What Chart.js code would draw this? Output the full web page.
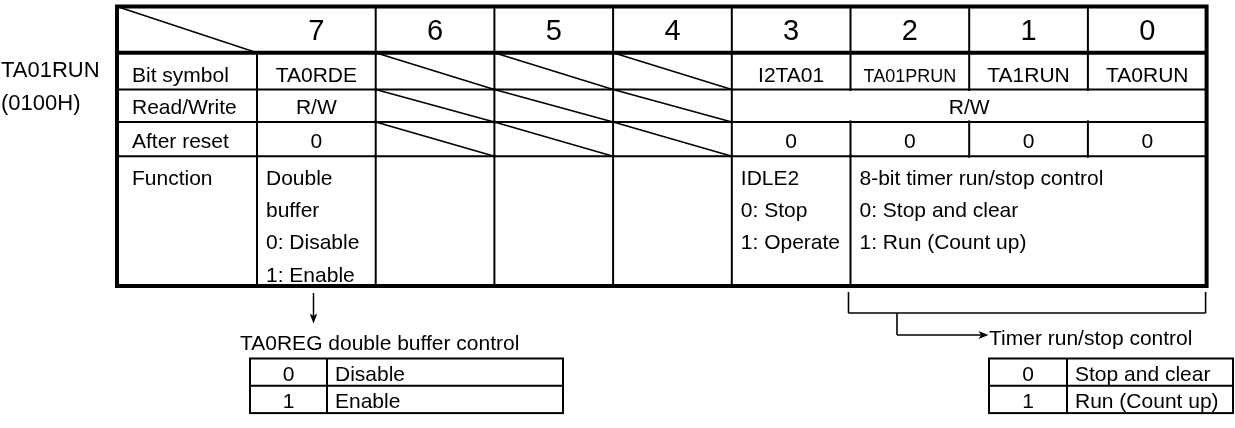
<!DOCTYPE html>
<html>
<head>
<meta charset="utf-8">
<script src="https://cdn.jsdelivr.net/npm/chart.js@4.4.1/dist/chart.umd.min.js"></script>
<style>
  html, body { margin: 0; padding: 0; background: #fff; }
  #wrap { width: 1235px; height: 428px; }
</style>
</head>
<body>
<div id="wrap"><canvas id="chart" width="1235" height="428"></canvas></div>
<script>
// register contents
const registerName = ['TA01RUN', '(0100H)'];
const bitNumbers = ['7', '6', '5', '4', '3', '2', '1', '0'];
const rowLabels = ['Bit symbol', 'Read/Write', 'After reset', 'Function'];
// null = reserved bit (hatched cell)
const bitSymbols = ['TA0RDE', null, null, null, 'I2TA01', 'TA01PRUN', 'TA1RUN', 'TA0RUN'];
const readWrite = [[7, 7, 'R/W'], [6, 6, null], [5, 5, null], [4, 4, null], [3, 0, 'R/W']];
const afterReset = ['0', null, null, null, '0', '0', '0', '0'];
const functions = [
  [7, 7, ['Double', 'buffer', '0: Disable', '1: Enable']],
  [6, 6, []], [5, 5, []], [4, 4, []],
  [3, 3, ['IDLE2', '0: Stop', '1: Operate']],
  [2, 0, ['8-bit timer run/stop control', '0: Stop and clear', '1: Run (Count up)']]
];
const bufferTitle = 'TA0REG double buffer control';
const bufferCodes = ['0', '1'];
const bufferNames = ['Disable', 'Enable'];
const timerTitle = 'Timer run/stop control';
const timerCodes = ['0', '1'];
const timerNames = ['Stop and clear', 'Run (Count up)'];

// layout, in scale units
const GRID = {left: 117, labelW: 140, bitW: 118.7, rows: [6.5, 52.8, 89.5, 121.9, 156.2, 286]};
const BASE = {header: 40, rows: [81.7, 114.3, 147.8], func: 185, funcStep: 32.2};
const FONT = '"Liberation Sans", Arial, sans-serif';

const perBit = (arr) => arr.map((t, i) => [7 - i, 7 - i, t]);

const bitLeft = (b) => GRID.left + GRID.labelW + (7 - b) * GRID.bitW;
const bitRight = (b) => bitLeft(b) + GRID.bitW;
const tableRight = () => bitRight(0);

const tablePlugin = {
  id: 'registerTable',
  afterDraw(chart) {
    const
      ctx = chart.ctx,
      X = (v) => chart.scales.x.getPixelForValue(v),
      Y = (v) => chart.scales.y.getPixelForValue(v),
      R = GRID.rows;

    const line = (x1, y1, x2, y2, w) => {
      ctx.lineWidth = w;
      ctx.beginPath();
      ctx.moveTo(X(x1), Y(y1));
      ctx.lineTo(X(x2), Y(y2));
      ctx.stroke();
    };

    const poly = (pts) => {
      ctx.beginPath();
      pts.forEach(([x, y], i) => i ? ctx.lineTo(X(x), Y(y)) : ctx.moveTo(X(x), Y(y)));
      ctx.closePath();
      ctx.fill();
    };

    const text = (s, x, y, size, align) => {
      ctx.font = size + 'px ' + FONT;
      ctx.textAlign = align || 'left';
      ctx.fillText(s, X(x), Y(y));
    };

    const fitText = (s, x, y, size, maxW) => {
      ctx.font = size + 'px ' + FONT;
      while (ctx.measureText(s).width > maxW && size > 8) {
        size -= 0.5;
        ctx.font = size + 'px ' + FONT;
      }
      text(s, x, y, size, 'center');
    };

    ctx.save();
    ctx.strokeStyle = '#000';
    ctx.fillStyle = '#000';
    ctx.textBaseline = 'alphabetic';
    ctx.lineCap = 'butt';

    // register name
    text(registerName[0], 1, 76.7, 22);
    text(registerName[1], 1, 110, 22);

    const L = GRID.left, LW = GRID.left + GRID.labelW, RT = tableRight();

    // header row
    line(L, R[0], LW, R[1], 1.5);
    bitNumbers.forEach((n, i) => {
      const b = 7 - i;
      if (b !== 7) line(bitLeft(b), R[0], bitLeft(b), R[1], 2);
      text(n, (bitLeft(b) + bitRight(b)) / 2, BASE.header, 29, 'center');
    });

    // body rows
    const rowsSpans = [perBit(bitSymbols), readWrite, perBit(afterReset), functions];
    rowsSpans.forEach((spans, r) => {
      const top = R[r + 1], bottom = R[r + 2];
      if (r > 0) line(L, top, RT, top, 2);
      line(LW, top, LW, bottom, 2);
      spans.forEach(([from, to, content]) => {
        const x1 = bitLeft(from), x2 = bitRight(to);
        if (from !== 7) line(x1, top - 1.5, x1, bottom + 1.5, 2);
        if (content === null) {
          line(x1, top, x2, bottom, 1.6);
        } else if (Array.isArray(content)) {
          content.forEach((s, k) => text(s, x1 + 9, BASE.func + k * BASE.funcStep, 21));
        } else {
          fitText(content, (x1 + x2) / 2, BASE.rows[r], 21, x2 - x1 - 24);
        }
      });
      if (r < 3) text(rowLabels[r], L + 15, BASE.rows[r], 21);
      else text(rowLabels[r], L + 15, BASE.func, 21);
    });

    // thick frame and header rule
    line(L, R[1], RT, R[1], 4);
    ctx.lineWidth = 4;
    ctx.strokeRect(X(L), Y(R[0]), X(RT) - X(L), Y(R[5]) - Y(R[0]));

    // bit 7 pointer
    const b7x = bitLeft(7) + 56.5;
    line(b7x, 293, b7x, 316, 1.5);
    poly([[b7x, 323.5], [b7x - 3.8, 313.5], [b7x, 316], [b7x + 3.8, 313.5]]);
    text(bufferTitle, 240, 350, 21);

    // bits 2..0 bracket
    const bx1 = bitLeft(2) - 2, bx2 = RT - 1;
    const ay = 335;
    line(bx1, 292, bx1, 313, 1.6);
    line(bx2, 292, bx2, 313, 1.6);
    line(bx1, 313, bx2, 313, 1.6);
    line(897, 313, 897, ay, 1.6);
    line(897, ay, 984, ay, 1.6);
    poly([[988.5, ay], [978.5, ay - 4], [981, ay], [978.5, ay + 4]]);
    text(timerTitle, 989, 345, 21);

    // value tables
    const valueTable = (left, div, right, top, rowH, codes, names) => {
      const bottom = top + rowH * codes.length;
      ctx.lineWidth = 2;
      ctx.strokeRect(X(left), Y(top), X(right) - X(left), Y(bottom) - Y(top));
      line(div, top, div, bottom, 2);
      codes.forEach((c, i) => {
        if (i > 0) line(left, top + rowH * i, right, top + rowH * i, 2);
        const base = top + rowH * i + 22.5;
        text(c, (left + div) / 2, base, 21, 'center');
        text(names[i], div + 8, base, 21);
      });
    };
    valueTable(250, 327, 563, 358.5, 27.3, bufferCodes, bufferNames);
    valueTable(989, 1067, 1233, 358.5, 27.3, timerCodes, timerNames);

    ctx.restore();
  }
};

new Chart(document.getElementById('chart'), {
  type: 'scatter',
  data: {datasets: [{data: [], pointRadius: 0}]},
  options: {
    responsive: false,
    animation: false,
    events: [],
    layout: {padding: 0},
    plugins: {legend: {display: false}, tooltip: {enabled: false}},
    scales: {
      x: {type: 'linear', min: 0, max: 1235, display: false},
      y: {type: 'linear', min: 0, max: 428, reverse: true, display: false}
    }
  },
  plugins: [tablePlugin]
});
</script>
</body>
</html>
